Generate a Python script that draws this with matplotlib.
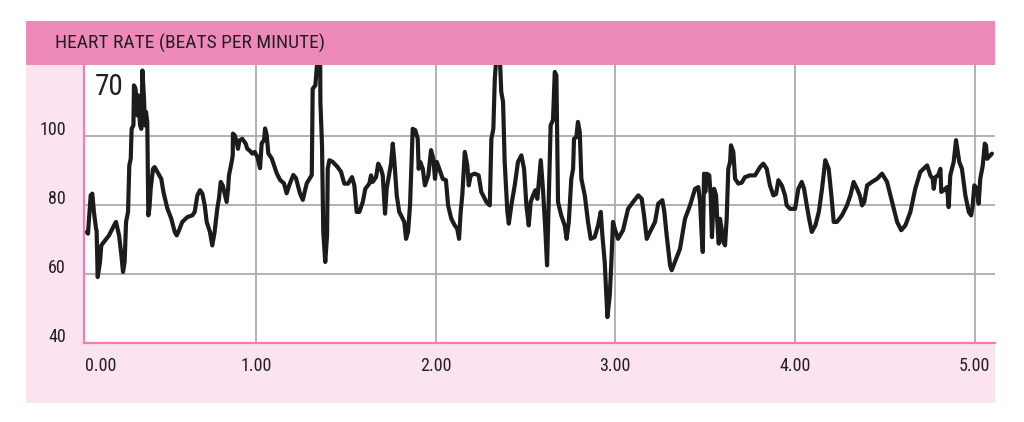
import matplotlib
matplotlib.use("Agg")
import matplotlib.pyplot as plt
from matplotlib import font_manager
from matplotlib.patches import Rectangle
from matplotlib.transforms import ScaledTranslation

# ---------------- data ----------------
title = "HEART RATE (BEATS PER MINUTE)"
corner_note = "70"

time_min = [
    0.057, 0.064, 0.079, 0.088, 0.097, 0.109, 0.112, 0.118, 0.131, 0.138, 0.153, 0.181, 0.209, 0.220,
    0.237, 0.250, 0.259, 0.268, 0.276, 0.287, 0.294, 0.302, 0.307, 0.317, 0.320, 0.329, 0.339, 0.344,
    0.354, 0.361, 0.367, 0.376, 0.381, 0.387, 0.394, 0.400, 0.406, 0.413, 0.426, 0.435, 0.450, 0.472,
    0.484, 0.506, 0.528, 0.547, 0.558, 0.571, 0.589, 0.617, 0.645, 0.658, 0.673, 0.688, 0.701, 0.714,
    0.725, 0.743, 0.756, 0.769, 0.784, 0.793, 0.803, 0.814, 0.827, 0.836, 0.844, 0.849, 0.864, 0.870,
    0.871, 0.881, 0.892, 0.899, 0.907, 0.923, 0.942, 0.951, 0.964, 0.979, 0.992, 1.007, 1.022, 1.031,
    1.044, 1.050, 1.059, 1.068, 1.087, 1.115, 1.133, 1.155, 1.170, 1.185, 1.207, 1.222, 1.244, 1.260,
    1.282, 1.310, 1.315, 1.330, 1.356, 1.358, 1.367, 1.374, 1.385, 1.395, 1.399, 1.408, 1.427, 1.454,
    1.473, 1.491, 1.512, 1.534, 1.547, 1.560, 1.575, 1.594, 1.608, 1.630, 1.640, 1.649, 1.668, 1.680,
    1.695, 1.705, 1.718, 1.727, 1.751, 1.761, 1.770, 1.783, 1.797, 1.812, 1.825, 1.835, 1.846, 1.857,
    1.872, 1.886, 1.900, 1.905, 1.914, 1.928, 1.940, 1.959, 1.974, 1.987, 1.996, 2.006, 2.020, 2.039,
    2.057, 2.069, 2.087, 2.106, 2.120, 2.130, 2.139, 2.148, 2.162, 2.176, 2.184, 2.195, 2.217, 2.239,
    2.254, 2.282, 2.301, 2.310, 2.321, 2.329, 2.350, 2.365, 2.375, 2.384, 2.399, 2.407, 2.421, 2.440,
    2.458, 2.477, 2.492, 2.505, 2.518, 2.529, 2.542, 2.555, 2.566, 2.585, 2.597, 2.610, 2.620, 2.629,
    2.640, 2.653, 2.663, 2.672, 2.681, 2.699, 2.718, 2.729, 2.741, 2.755, 2.765, 2.770, 2.783, 2.792,
    2.802, 2.811, 2.830, 2.848, 2.863, 2.885, 2.904, 2.919, 2.928, 2.941, 2.950, 2.956, 2.969, 2.978,
    2.987, 2.997, 3.015, 3.043, 3.071, 3.099, 3.128, 3.147, 3.160, 3.175, 3.193, 3.221, 3.239, 3.262,
    3.273, 3.286, 3.305, 3.314, 3.332, 3.360, 3.388, 3.416, 3.444, 3.462, 3.472, 3.481, 3.487, 3.494,
    3.501, 3.509, 3.523, 3.531, 3.538, 3.550, 3.561, 3.568, 3.576, 3.583, 3.592, 3.601, 3.611, 3.620,
    3.629, 3.639, 3.644, 3.657, 3.667, 3.685, 3.704, 3.722, 3.750, 3.778, 3.806, 3.824, 3.843, 3.861,
    3.880, 3.895, 3.908, 3.927, 3.945, 3.954, 3.973, 4.001, 4.019, 4.038, 4.051, 4.066, 4.079, 4.094,
    4.114, 4.133, 4.151, 4.169, 4.188, 4.203, 4.216, 4.234, 4.262, 4.290, 4.309, 4.327, 4.346, 4.361,
    4.374, 4.386, 4.402, 4.429, 4.457, 4.485, 4.513, 4.541, 4.569, 4.592, 4.615, 4.643, 4.670, 4.698,
    4.736, 4.754, 4.767, 4.773, 4.782, 4.797, 4.810, 4.815, 4.829, 4.847, 4.856, 4.865, 4.884, 4.897,
    4.907, 4.915, 4.930, 4.949, 4.968, 4.981, 4.990, 4.999, 5.014, 5.023, 5.032, 5.046, 5.057, 5.064,
    5.070, 5.079, 5.097,
]

bpm = [
    72.2, 71.7, 82.8, 83.3, 78.0, 73.1, 72.6, 59.1, 63.5, 68.3, 69.3, 71.2, 74.1, 75.1,
    71.2, 65.4, 60.6, 63.5, 75.1, 78.0, 91.5, 93.4, 102.1, 103.1, 114.7, 113.7, 106.0, 111.8,
    103.1, 102.1, 119.0, 110.8, 103.1, 107.0, 104.1, 77.0, 79.0, 84.7, 90.5, 91.0, 89.6, 87.6,
    83.8, 79.0, 76.0, 72.2, 71.2, 72.7, 75.1, 76.5, 77.0, 78.0, 82.8, 84.3, 83.3, 79.9,
    75.1, 72.2, 68.3, 72.2, 79.0, 81.8, 86.7, 85.7, 82.8, 80.9, 84.7, 88.6, 92.5, 94.4,
    100.7, 100.2, 98.3, 96.3, 98.7, 99.2, 97.8, 96.3, 95.8, 94.9, 95.4, 93.9, 90.7, 97.9,
    98.8, 102.2, 100.3, 95.0, 93.5, 89.2, 87.3, 86.3, 83.4, 85.8, 88.7, 87.8, 83.4, 81.5,
    86.3, 88.7, 113.7, 114.7, 132.0, 109.9, 97.3, 72.2, 63.5, 71.2, 90.5, 93.0, 92.5, 91.0,
    89.6, 86.2, 86.2, 88.1, 85.7, 78.0, 78.0, 80.9, 84.7, 86.2, 88.6, 86.7, 88.1, 92.0,
    90.5, 88.6, 77.5, 84.7, 92.0, 97.8, 92.5, 82.8, 78.0, 76.5, 75.1, 70.2, 72.2, 79.9,
    102.1, 101.7, 99.2, 90.5, 92.5, 90.5, 85.7, 88.6, 95.9, 93.4, 87.6, 92.5, 90.5, 87.6,
    87.2, 79.9, 76.0, 74.1, 73.1, 70.2, 78.0, 82.8, 95.4, 91.5, 85.7, 88.6, 89.1, 88.6,
    83.8, 80.9, 79.9, 99.2, 102.1, 116.6, 132.0, 112.8, 109.9, 92.5, 78.0, 74.6, 79.9, 85.7,
    92.5, 94.4, 90.5, 79.9, 74.1, 80.9, 82.8, 84.3, 81.8, 93.0, 84.7, 73.1, 62.5, 80.9,
    103.1, 104.6, 118.6, 117.6, 80.9, 77.0, 74.1, 70.2, 75.1, 87.6, 90.5, 99.2, 99.7, 104.1,
    101.2, 87.6, 82.8, 75.1, 70.2, 70.7, 74.1, 78.0, 71.2, 63.5, 53.8, 47.5, 53.8, 63.5,
    75.1, 73.1, 70.2, 72.7, 78.9, 80.9, 82.8, 81.8, 77.0, 70.2, 72.2, 75.1, 80.4, 81.4,
    78.0, 71.2, 62.5, 61.1, 63.5, 67.3, 76.0, 79.9, 84.7, 85.2, 80.9, 71.2, 66.4, 89.1,
    83.8, 89.1, 88.6, 82.8, 70.7, 84.7, 82.8, 75.1, 68.8, 76.0, 73.1, 69.3, 68.3, 76.0,
    90.5, 92.5, 97.3, 95.4, 87.6, 86.2, 86.5, 88.1, 88.6, 88.6, 91.0, 92.0, 90.5, 85.7,
    82.8, 83.2, 87.2, 85.7, 82.8, 79.9, 78.9, 78.9, 84.7, 86.7, 84.7, 79.9, 76.0, 72.2,
    74.1, 78.0, 84.7, 93.0, 90.5, 82.8, 75.1, 75.1, 77.0, 79.9, 82.8, 86.7, 84.7, 82.8,
    79.9, 80.9, 85.7, 86.7, 87.6, 89.1, 86.7, 80.9, 75.1, 72.7, 74.1, 78.0, 84.7, 89.6,
    91.5, 88.6, 87.6, 84.7, 88.1, 88.6, 90.5, 83.8, 84.3, 85.2, 79.4, 88.6, 92.5, 98.8,
    95.4, 92.5, 90.5, 82.8, 78.0, 77.0, 79.9, 85.7, 84.7, 80.4, 87.6, 91.5, 97.8, 97.3,
    93.4, 93.9, 94.9,
]

y_ticks = [40, 60, 80, 100]
x_ticks = [0, 1, 2, 3, 4, 5]
x_range = (0.0418, 5.114)
y_range = (40, 120.6)

# ---------------- style ----------------
W, H = 1024, 422
header_pink = "#EE8AB9"
panel_pink = "#FBE4F0"
spine_pink = "#F07DB9"
grid_grey = "#ABABAB"
ink = "#231F20"


def _is_regular(f):
    w = f.weight
    if isinstance(w, str):
        return w.lower() in ("normal", "regular", "book", "400")
    return 350 <= int(w) <= 450


def _is_narrow(f):
    s = f.stretch
    if isinstance(s, str):
        return "condensed" in s.lower() or "narrow" in s.lower()
    return int(s) < 500


def pick_font():
    entries = font_manager.fontManager.ttflist
    for cand in ["Liberation Sans Narrow", "Open Sans Condensed", "Roboto Condensed",
                 "Noto Sans Condensed", "Noto Sans", "Open Sans", "Roboto", "DejaVu Sans"]:
        for f in entries:
            if f.name == cand and f.style == "normal" and _is_regular(f) and _is_narrow(f):
                return cand, "condensed"
    for f in entries:
        if f.style == "normal" and _is_regular(f) and _is_narrow(f) and "Mono" not in f.name \
                and "Serif" not in f.name:
            return f.name, "condensed"
    return "Liberation Sans", "normal"


FONT, STRETCH = pick_font()
plt.rcParams["font.family"] = [FONT, "DejaVu Sans"]
plt.rcParams["font.stretch"] = STRETCH
plt.rcParams["font.weight"] = "normal"

fig = plt.figure(figsize=(W / 100, H / 100), dpi=100)
fig.patch.set_facecolor("white")


def px_rect(x0, y0, x1, y1, color):
    fig.add_artist(Rectangle((x0 / W, 1 - y1 / H), (x1 - x0) / W, (y1 - y0) / H,
                             transform=fig.transFigure, facecolor=color,
                             edgecolor="none", zorder=0))


px_rect(26, 65, 995, 403, panel_pink)
px_rect(26, 21, 995, 65, header_pink)
fig.text(55 / W, 1 - 43.5 / H, title, ha="left", va="center", fontsize=14,
         color=ink, fontweight="normal")

ax = fig.add_axes([84 / W, 1 - 343 / H, (995 - 84) / W, (343 - 65) / H])
ax.set_facecolor("white")
ax.plot(time_min, bpm, color="#1C1C1C", lw=3.0, solid_joinstyle="round",
        solid_capstyle="round", zorder=3)
ax.set_xlim(*x_range)
ax.set_ylim(*y_range)

ax.set_yticks(y_ticks)
ax.set_yticklabels([str(v) for v in y_ticks])
xt_pos = [max(v, x_range[0]) for v in x_ticks]
ax.set_xticks(xt_pos)
ax.set_xticklabels([f"{v:.2f}" for v in x_ticks])
ax.grid(True, color=grid_grey, lw=1.3, zorder=1)
ax.tick_params(length=0, labelsize=13, colors=ink)
ax.tick_params(axis="y", pad=13)
ax.tick_params(axis="x", pad=10)

for lab in ax.get_yticklabels():
    lab.set_transform(lab.get_transform() + ScaledTranslation(0, 0.08, fig.dpi_scale_trans))
xl = ax.get_xticklabels()
xl[0].set_horizontalalignment("left")
xl[0].set_transform(xl[0].get_transform() + ScaledTranslation(0.01, 0, fig.dpi_scale_trans))

for s in ["top", "right"]:
    ax.spines[s].set_visible(False)
for s in ["left", "bottom"]:
    ax.spines[s].set_color(spine_pink)
    ax.spines[s].set_linewidth(1.6)
    ax.spines[s].set_zorder(4)

ax.text(0.012, 0.92, corner_note, transform=ax.transAxes, ha="left", va="center",
        fontsize=21, color=ink, zorder=5)

fig.savefig("out.png", dpi=100, facecolor="white")
